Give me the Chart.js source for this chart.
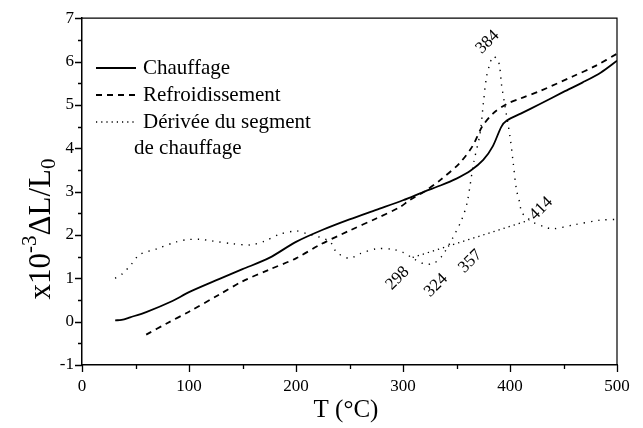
<!DOCTYPE html>
<html>
<head>
<meta charset="utf-8">
<script src="https://cdn.jsdelivr.net/npm/chart.js@4"></script>
<style>
  html, body { margin: 0; padding: 0; background: #fff; }
  #wrap { width: 643px; height: 428px; }
</style>
</head>
<body>
<div id="wrap"><canvas id="c"></canvas></div>
<script>
const serif = '"Liberation Serif", "Times New Roman", serif';

// Chauffage (solid)
const chauffT = [31, 37, 45, 60, 84, 100, 128, 150, 175, 200, 225, 250, 275, 300, 320, 335, 350, 363, 375, 384, 392, 397, 410, 428, 450, 468, 485, 500];
const chauffV = [0.03, 0.04, 0.1, 0.22, 0.47, 0.68, 0.98, 1.21, 1.47, 1.84, 2.12, 2.36, 2.58, 2.8, 3.0, 3.14, 3.3, 3.48, 3.73, 4.05, 4.5, 4.64, 4.8, 5.02, 5.3, 5.52, 5.75, 6.02];

// Refroidissement (dashed)
const refroidT = [60, 80, 100, 128, 150, 175, 200, 222, 250, 275, 297, 306, 320, 335, 353, 365, 374, 384, 397, 410, 428, 459, 480, 500];
const refroidV = [-0.3, -0.03, 0.23, 0.62, 0.93, 1.2, 1.46, 1.77, 2.1, 2.38, 2.64, 2.8, 3.0, 3.27, 3.66, 4.05, 4.5, 4.8, 5.02, 5.15, 5.32, 5.66, 5.9, 6.18];

// Dérivée du segment de chauffage (dotted)
const deriveT = [31, 38, 46, 54, 70, 88, 98, 110, 122, 140, 157, 170, 185, 201, 210, 222, 232, 238, 250, 260, 275, 290, 300, 310, 319, 328, 336, 346, 355, 360, 366, 372, 375, 378, 381, 384, 387, 390, 392, 395, 400, 403, 406, 409, 411, 416, 421, 433, 440, 459, 484, 500];
const deriveV = [1.0, 1.11, 1.32, 1.55, 1.68, 1.84, 1.89, 1.9, 1.86, 1.8, 1.77, 1.85, 2.02, 2.09, 2.03, 1.95, 1.84, 1.6, 1.46, 1.57, 1.68, 1.67, 1.6, 1.45, 1.34, 1.34, 1.5, 1.91, 2.36, 2.75, 3.66, 4.34, 5.02, 5.64, 5.93, 6.12, 6.08, 5.93, 5.48, 5.02, 4.27, 3.66, 3.05, 2.75, 2.52, 2.4, 2.3, 2.18, 2.14, 2.23, 2.34, 2.36];

// tangent baseline under the peak
const baseT = [309, 418];
const baseV = [1.48, 2.34];

// rotated temperature annotations
const noteText = ['298', '324', '357', '414', '384'];
const noteT = [295, 331, 363, 429, 379];
const noteV = [1.0, 0.84, 1.39, 2.61, 6.45];

const xTicks = [0, 100, 200, 300, 400, 500];
const yTicks = [-1, 0, 1, 2, 3, 4, 5, 6, 7];

const legendItems = [
  { text: ['Chauffage'], dash: [], width: 1.8 },
  { text: ['Refroidissement'], dash: [6, 5], width: 1.8 },
  { text: ['Dérivée du segment', 'de chauffage'], dash: [1.2, 4], width: 1.3 }
];

const pts = (xs, ys) => xs.map((x, i) => ({ x, y: ys[i] }));

const extras = {
  id: 'extras',
  afterDraw(chart) {
    const { ctx, chartArea: a, scales: { x, y } } = chart;
    ctx.save();
    ctx.strokeStyle = '#000';
    ctx.fillStyle = '#000';

    // frame top/right
    ctx.lineWidth = 1.2;
    ctx.beginPath();
    ctx.moveTo(a.left, a.top); ctx.lineTo(a.right, a.top); ctx.lineTo(a.right, a.bottom);
    ctx.stroke();

    // ticks (major + minor)
    ctx.lineWidth = 1.3;
    ctx.beginPath();
    for (let v = 0; v <= 500; v += 50) {
      const px = Math.round(x.getPixelForValue(v)) + 0.5;
      const len = v % 100 === 0 ? 7 : 4;
      ctx.moveTo(px, a.bottom); ctx.lineTo(px, a.bottom + len);
    }
    for (let v = -1; v <= 7; v += 0.5) {
      const py = Math.round(y.getPixelForValue(v)) + 0.5;
      const len = Number.isInteger(v) ? 7 : 4;
      ctx.moveTo(a.left, py); ctx.lineTo(a.left - len, py);
    }
    ctx.stroke();

    // rotated annotations
    ctx.font = '17px ' + serif;
    ctx.textAlign = 'center';
    ctx.textBaseline = 'middle';
    noteText.forEach((t, i) => {
      ctx.save();
      ctx.translate(x.getPixelForValue(noteT[i]), y.getPixelForValue(noteV[i]));
      ctx.rotate(-Math.PI / 4);
      ctx.fillText(t, 0, 0);
      ctx.restore();
    });

    // legend
    let ly = 68;
    legendItems.forEach(it => {
      ctx.save();
      ctx.lineWidth = it.width;
      ctx.setLineDash(it.dash);
      ctx.beginPath();
      ctx.moveTo(96, ly); ctx.lineTo(136, ly);
      ctx.stroke();
      ctx.restore();
      ctx.font = '21px ' + serif;
      ctx.textAlign = 'left';
      it.text.forEach((line, j) => {
        ctx.fillText(line, j === 0 ? 143 : 134, ly + j * 26);
      });
      ly += 27 * it.text.length;
    });

    // x title
    ctx.font = '25px ' + serif;
    ctx.textAlign = 'center';
    ctx.fillText('T (°C)', 346, 410);

    // y title with super/subscript
    ctx.save();
    ctx.translate(42, 229);
    ctx.rotate(-Math.PI / 2);
    const big = '31px ' + serif, small = '21px ' + serif;
    const runs = [
      { t: 'x10', f: big, dy: 0 },
      { t: '-3', f: small, dy: -12 },
      { t: 'ΔL/L', f: big, dy: 0 },
      { t: '0', f: small, dy: 7 }
    ];
    let total = 0;
    runs.forEach(r => { ctx.font = r.f; r.w = ctx.measureText(r.t).width; total += r.w; });
    let cx = -total / 2;
    ctx.textAlign = 'left';
    runs.forEach(r => { ctx.font = r.f; ctx.fillText(r.t, cx, r.dy); cx += r.w; });
    ctx.restore();

    ctx.restore();
  }
};

new Chart(document.getElementById('c'), {
  type: 'scatter',
  data: {
    datasets: [
      { label: 'Chauffage', data: pts(chauffT, chauffV), showLine: true, borderColor: '#000', borderWidth: 1.8, pointRadius: 0, tension: 0.3 },
      { label: 'Refroidissement', data: pts(refroidT, refroidV), showLine: true, borderColor: '#000', borderWidth: 1.8, borderDash: [6, 5], pointRadius: 0, tension: 0.3 },
      { label: 'Dérivée', data: pts(deriveT, deriveV), showLine: true, borderColor: '#000', borderWidth: 1.4, borderDash: [1.3, 6], pointRadius: 0, tension: 0.3 },
      { label: 'base', data: pts(baseT, baseV), showLine: true, borderColor: '#000', borderWidth: 1.3, borderDash: [1.3, 4], pointRadius: 0 }
    ]
  },
  options: {
    responsive: true,
    maintainAspectRatio: false,
    animation: false,
    layout: { padding: { left: 0, top: 13, right: 26, bottom: 0 } },
    plugins: { legend: { display: false }, tooltip: { enabled: false } },
    scales: {
      x: {
        type: 'linear', min: 0, max: 500,
        afterBuildTicks: s => { s.ticks = xTicks.map(v => ({ value: v })); },
        afterFit: s => { s.height = 63; },
        grid: { display: true, drawOnChartArea: false, drawTicks: false },
        border: { display: true, color: '#000', width: 1.5 },
        ticks: { color: '#000', padding: 11, font: { family: serif, size: 17 }, maxRotation: 0 }
      },
      y: {
        type: 'linear', min: -1, max: 7,
        afterBuildTicks: s => { s.ticks = yTicks.map(v => ({ value: v })); },
        afterFit: s => { s.width = 82; },
        grid: { display: true, drawOnChartArea: false, drawTicks: false },
        border: { display: true, color: '#000', width: 1.5 },
        ticks: { color: '#000', padding: 8, font: { family: serif, size: 17 } }
      }
    }
  },
  plugins: [extras]
});
</script>
</body>
</html>
